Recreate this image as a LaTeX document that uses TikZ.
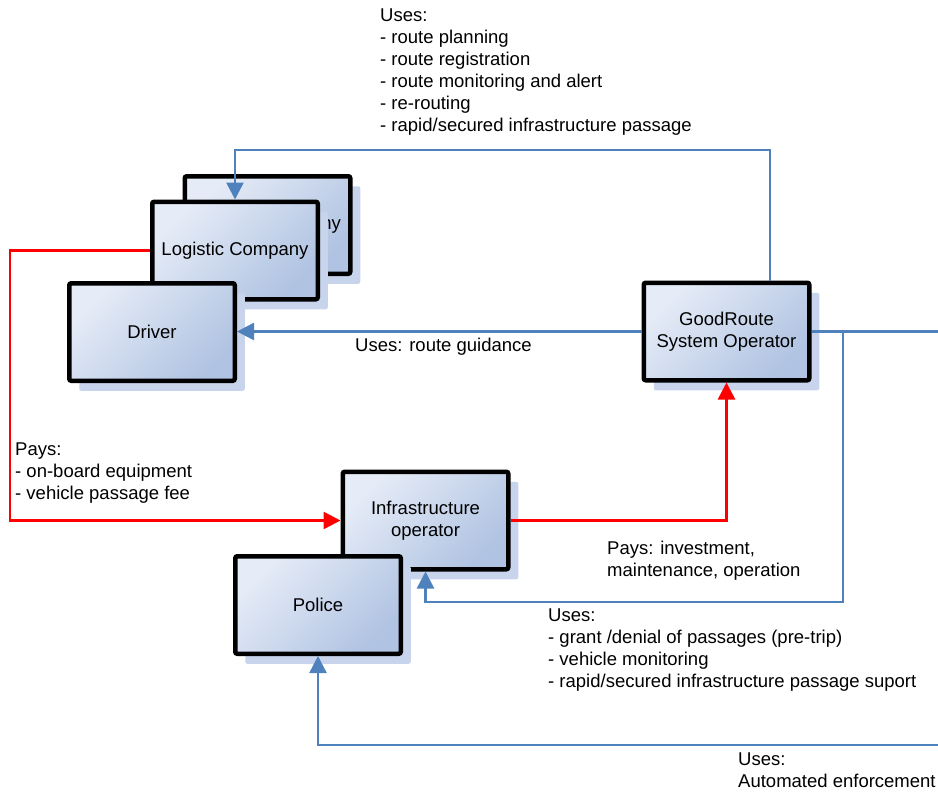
\documentclass[tikz,border=0pt]{standalone}
\usepackage{fontspec}
\setmainfont{Liberation Sans}
\usetikzlibrary{arrows.meta,shadows}
\definecolor{lineB}{RGB}{79,129,189}
\definecolor{lineR}{RGB}{255,0,0}
\definecolor{boxL}{RGB}{230,236,247}
\definecolor{boxD}{RGB}{176,195,226}
\definecolor{shadB}{RGB}{200,212,236}

\begin{document}
\begin{tikzpicture}[x=1pt,y=-1pt,>={Triangle[length=17pt,width=17pt]},
  every node/.style={font=\fontsize{18.5}{22}\selectfont},
  box/.style={draw=black,line width=4.5pt,rounded corners=2pt,minimum width=165.5pt,minimum height=97.5pt,align=center,
    top color=boxL,bottom color=boxD,shading angle=45,
    drop shadow={shadow xshift=10pt,shadow yshift=-10pt,fill=shadB,opacity=1}},
  note/.style={anchor=north west,inner sep=0pt,align=left},
  bl/.style={draw=lineB,line width=2.5pt},
  rd/.style={draw=lineR,line width=2.5pt}]
\useasboundingbox (0,0) rectangle (938,793);
% boxes
\node[box] (lcb) at (267.5,225) {Logistic Company};
\node[box] (lc) at (235,250.5) {Logistic Company};
\node[box] (dr) at (152,332) {Driver};
\node[box] (go) at (726.5,331.5) {GoodRoute\\System Operator};
\node[box] (io) at (425.5,520.5) {Infrastructure\\operator};
\node[box] (po) at (318,605) {Police};
% free ends and bends
\coordinate (t1) at (770,150);
\coordinate (re) at (938,331.5);
\coordinate (r1) at (843,602);
\coordinate (b1) at (938,745);
\coordinate (l1) at (10,250.5);
\coordinate (l2) at (10,520.5);
% blue: uses
\draw[bl,->] (go.north -| t1) -- (t1) -| (lc.north);
\draw[bl,->] (go.west) -- (go.west -| dr.east);
\draw[bl] (go.east) -- (re);
\draw[bl,->] (go.east -| r1) -- (r1) -| (io.south);
\draw[bl,->] (b1) -| (po.south);
% red: pays
\draw[rd,->] (lc.west) -- (l1) -- (l2) -- (io.west);
\draw[rd,->] (io.east) -| (go.south);
% labels
\node[note] (n1) at (380,9) {Uses:\\- route planning\\- route registration\\- route monitoring and alert\\- re-routing\\- rapid/secured infrastructure passage};
\node[note] (n2) at (355,338) {Uses: route guidance};
\node[note] (n3) at (15,443) {Pays:\\- on-board equipment\\- vehicle passage fee};
\node[note] (n4) at (607,541) {Pays: investment,\\maintenance, operation};
\node[note] (n5) at (548,609) {Uses:\\- grant /denial of passages (pre-trip)\\- vehicle monitoring\\- rapid/secured infrastructure passage suport};
\node[note] (n6) at (738,753) {Uses:\\Automated enforcement};
\end{tikzpicture}
\end{document}
